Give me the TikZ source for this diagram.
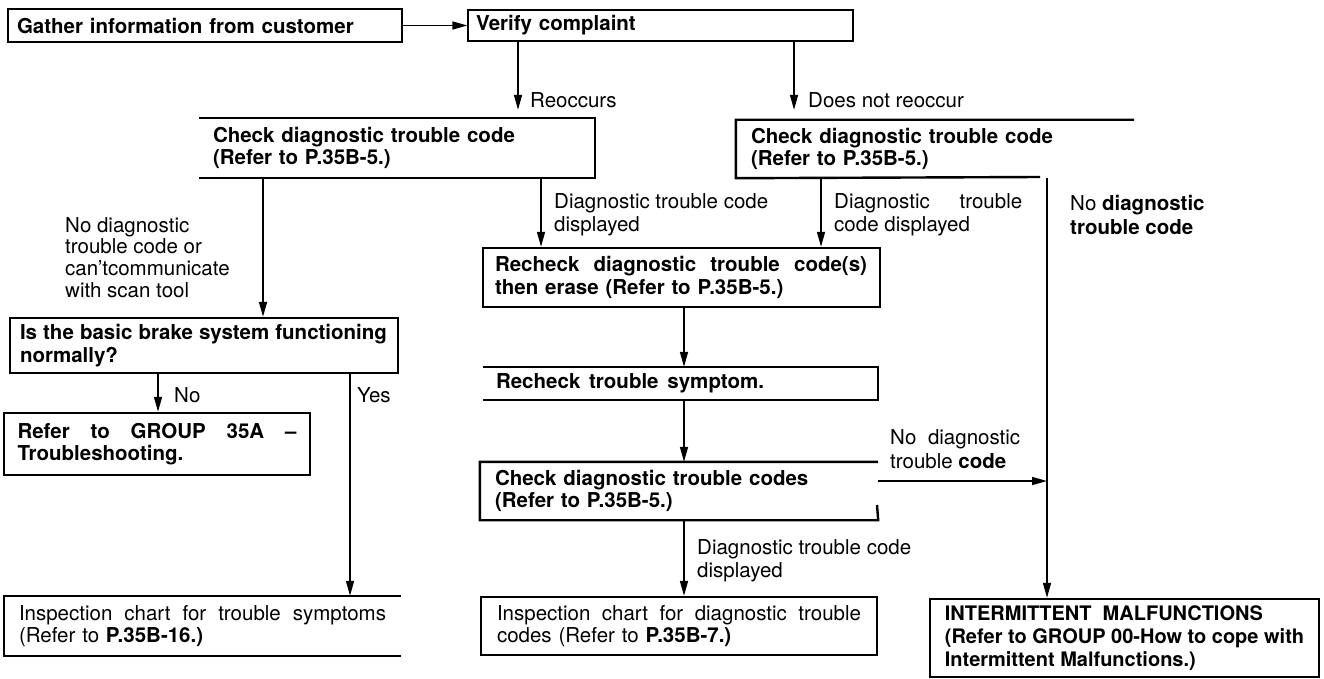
\documentclass[tikz,border=0pt]{standalone}
\usepackage{fontspec}
\setmainfont{TeX Gyre Heros}
\usetikzlibrary{arrows.meta}
\newcommand\bxf{\fontsize{20.5}{22.5}\selectfont\bfseries}
\newcommand\rgf{\fontsize{20.5}{22.5}\selectfont}
\newcommand\lbf{\fontsize{20.5}{23.5}\selectfont}
\newcommand\jl[2]{\makebox[#1][s]{\spaceskip=.278em plus 1fil\relax #2}}
\begin{document}
\begin{tikzpicture}[x=1pt,y=-1pt,
  bx/.style={inner ysep=0pt, align=left, font=\bxf, line width=2.4pt},
  bord/.style={line width=2.4pt},
  arr/.style={line width=1.6pt, -{Triangle[length=15pt,width=8pt]}},
  lab/.style={inner sep=0pt, align=left, font=\lbf, anchor=west}]
\fill[white] (0,0) rectangle (1324,679);
\useasboundingbox (0,0) rectangle (1324,679);

% boxes
\node[bx, draw, line width=2pt, minimum width=394pt, minimum height=33pt, inner xsep=9pt, text width=376pt] (gather) at (205,25.5) {Gather information from customer};
\node[bx, draw, line width=1.3pt, minimum width=385pt, minimum height=31pt, inner xsep=8pt, text width=369pt] (verify) at (660.5,25.5) {Verify complaint};
\node[bx, minimum width=394pt, minimum height=58pt, inner xsep=13pt, text width=368pt] (check1) at (397,148) {Check diagnostic trouble code\\(Refer to P.35B-5.)};
\node[bx, minimum width=396pt, minimum height=56pt, inner xsep=14pt, text width=368pt] (check2) at (935,149) {Check diagnostic trouble code\\(Refer to P.35B-5.)};
\node[bx, draw, minimum width=397pt, minimum height=59pt, inner xsep=12pt, text width=373pt] (rdtc) at (681.5,277.5) {\jl{372pt}{Recheck diagnostic trouble code(s)}\\then erase (Refer to P.35B-5.)};
\node[bx, minimum width=393pt, minimum height=31pt, inner xsep=12pt, text width=369pt] (rsym) at (680.5,383.5) {\jl{268pt}{Recheck trouble symptom.}};
\node[bx, minimum width=396pt, minimum height=56pt, inner xsep=14pt, text width=368pt] (check3) at (679,491) {Check diagnostic trouble codes\\(Refer to P.35B-5.)};
\node[bx, draw, font=\rgf, minimum width=396pt, minimum height=58pt, inner xsep=16pt, text width=364pt] (insp2) at (679,626) {\jl{364pt}{Inspection chart for diagnostic trouble}\\codes (Refer to \textbf{P.35B-7.)}};
\node[bx, font=\rgf, minimum width=395pt, minimum height=58pt, inner xsep=14pt, text width=367pt] (insp1) at (202.5,626) {\jl{367pt}{Inspection chart for trouble symptoms}\\(Refer to \textbf{P.35B-16.)}};
\node[bx, draw, minimum width=388pt, minimum height=55pt, inner xsep=10pt, text width=368pt] (basic) at (204,345.5) {\jl{367pt}{Is the basic brake system functioning}\\normally?};
\node[bx, draw, minimum width=306pt, minimum height=62pt, inner xsep=13.5pt, text width=279pt] (refer) at (157,444) {\jl{279pt}{Refer to GROUP 35A \textendash}\\Troubleshooting.};
\node[bx, draw, font={\fontsize{20}{23}\selectfont\bfseries}, minimum width=389pt, minimum height=78pt, inner xsep=8pt] (intm) at (1124.5,638) {\jl{318pt}{INTERMITTENT MALFUNCTIONS}\\(Refer to GROUP 00-How to cope with\\Intermittent Malfunctions.)};

% partial borders
\coordinate (c2end) at (1040,177);
\coordinate (c3r) at (877,505);
\draw[bord] (check1.north west) -- (check1.north east) -- (check1.south east) -- (check1.south west);
\draw[bord] (check2.north east) -- (check2.north west) -- (check2.south west) -- (c2end);
\draw[bord] (rsym.north west) -- (rsym.north east) -- (rsym.south east) -- (rsym.south west);
\draw[bord] (c3r) -- (check3.south east) -- (check3.south west) -- (check3.north west) -- (check3.north east);
\draw[bord] (insp1.north east) -- (insp1.north west) -- (insp1.south west) -- (insp1.south east);

% connector x positions
\coordinate (xr) at (518,0);
\coordinate (xd) at (794,0);
\coordinate (x1) at (263,0);
\coordinate (x2) at (541,0);
\coordinate (x3) at (821,0);
\coordinate (xv) at (1047,0);
\coordinate (xm) at (684,0);
\coordinate (xn) at (158,0);
\coordinate (xy) at (350,0);
\coordinate (hy) at (0,481);

% connectors
\draw[arr] (gather) -- (verify);
\draw[arr, shorten >=8pt] (verify.south -| xr) -- (check1.north -| xr);
\draw[arr, shorten >=10pt] (verify.south -| xd) -- (check2.north -| xd);
\draw[arr] (check1.south -| x1) -- (basic.north -| x1);
\draw[arr] (check1.south -| x2) -- (rdtc.north -| x2);
\draw[arr] (check2.south -| x3) -- (rdtc.north -| x3);
\draw[arr] (check2.south -| xv) -- (intm.north -| xv);
\draw[arr] (rdtc.south -| xm) -- (rsym.north -| xm);
\draw[arr] (rsym.south -| xm) -- (check3.north -| xm);
\draw[arr] (check3.south -| xm) -- (insp2.north -| xm);
\draw[arr] (hy -| check3.east) -- (hy -| xv);
\draw[arr] (basic.south -| xn) -- (refer.north -| xn);
\draw[arr] (basic.south -| xy) -- (insp1.north -| xy);

% labels
\node[lab] (lreo) at (530,100) {Reoccurs};
\node[lab] (ldnr) at (808,100) {Does not reoccur};
\node[lab, font={\fontsize{20.5}{21.7}\selectfont}] (lnd1) at (65,257.5) {No diagnostic\\trouble code or\\can'tcommunicate\\with scan tool};
\node[lab] (ldd1) at (554,215) {Diagnostic trouble code\\displayed};
\node[lab] (ldd2) at (834,215) {\jl{188pt}{Diagnostic trouble}\\code displayed};
\node[lab] (lnd2) at (1070,215) {No \textbf{diagnostic}\\\textbf{trouble code}};
\node[lab] (lnd3) at (890,449) {\jl{130pt}{No diagnostic}\\trouble \textbf{code}};
\node[lab] (ldd3) at (697,561) {Diagnostic trouble code\\displayed};
\node[lab] (lno) at (174,395) {No};
\node[lab] (lyes) at (357,395) {Yes};
\end{tikzpicture}
\end{document}
